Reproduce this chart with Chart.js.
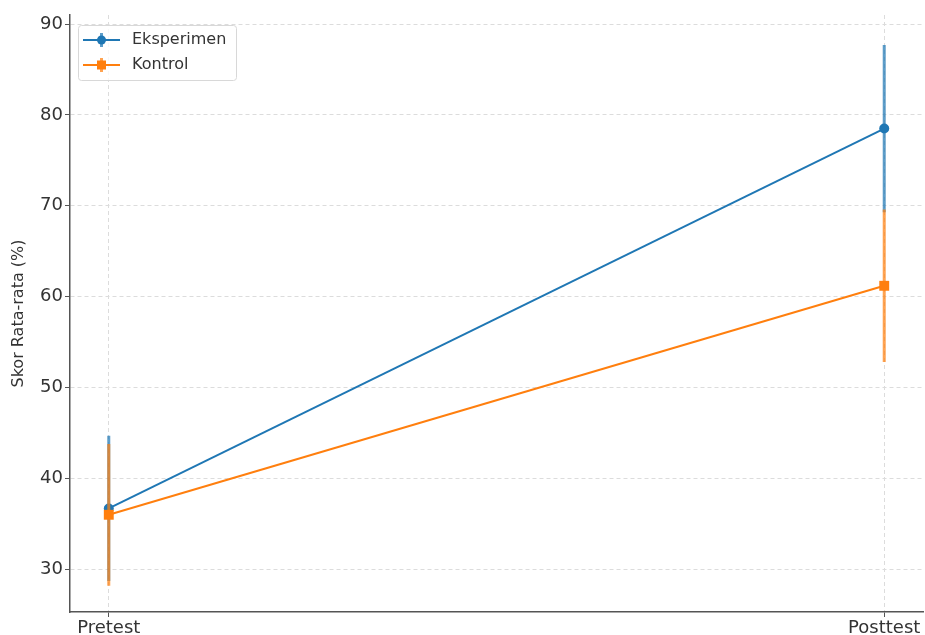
<!DOCTYPE html>
<html>
<head>
<meta charset="utf-8">
<script src="https://cdn.jsdelivr.net/npm/chart.js@4.4.1/dist/chart.umd.min.js"></script>
<style>
  html, body { margin: 0; padding: 0; background: #fff; }
  #wrap { width: 925px; height: 635px; }
</style>
</head>
<body>
<div id="wrap"><canvas id="chart" width="925" height="635"></canvas></div>
<script>
// --- data ---
const phases = ['Pretest', 'Posttest'];
const phaseX = [0, 1];
const eksperimenMean = [36.7, 78.5];
const eksperimenErr = [8.0, 9.2];
const kontrolMean = [36.0, 61.2];
const kontrolErr = [7.8, 8.4];
const yTicks = [30, 40, 50, 60, 70, 80, 90];

const BLUE = '#1f77b4';
const ORANGE = '#ff7f0e';
const BLUE_ERR = 'rgba(31,119,180,0.72)';
const ORANGE_ERR = 'rgba(255,127,14,0.72)';

const seriesPoints = (means) => phaseX.map((x, i) => ({ x, y: means[i] }));

// vertical bars, separated by null gaps
const errorPoints = (means, errs) => {
    const pts = [];
    phaseX.forEach((x, i) => {
        pts.push({ x, y: means[i] - errs[i] });
        pts.push({ x, y: means[i] + errs[i] });
        pts.push({ x, y: null });
    });
    return pts;
};

// matplotlib style legend box in the upper left
const legendBox = {
    id: 'legendBox',
    afterDraw(chart) {
        const { ctx, chartArea } = chart;
        const x0 = chartArea.left + 8;
        const y0 = chartArea.top + 10;
        ctx.save();
        ctx.fillStyle = 'rgba(255,255,255,0.8)';
        ctx.strokeStyle = '#d8d8d8';
        ctx.lineWidth = 1;
        ctx.beginPath();
        ctx.roundRect(x0 + 0.5, y0 + 0.5, 158, 55, 3);
        ctx.fill();
        ctx.stroke();

        const entries = [
            { label: 'Eksperimen', color: BLUE, err: BLUE_ERR, style: 'circle' },
            { label: 'Kontrol', color: ORANGE, err: ORANGE_ERR, style: 'rect' }
        ];
        entries.forEach((e, i) => {
            const cy = y0 + 15 + i * 25;
            const lx = x0 + 5, rx = x0 + 42, mx = (lx + rx) / 2;
            ctx.strokeStyle = e.err;
            ctx.lineWidth = 3;
            ctx.beginPath();
            ctx.moveTo(mx, cy - 7);
            ctx.lineTo(mx, cy + 7);
            ctx.stroke();
            ctx.strokeStyle = e.color;
            ctx.lineWidth = 2;
            ctx.beginPath();
            ctx.moveTo(lx, cy);
            ctx.lineTo(rx, cy);
            ctx.stroke();
            ctx.fillStyle = e.color;
            if (e.style === 'circle') {
                ctx.beginPath();
                ctx.arc(mx, cy, 4.5, 0, Math.PI * 2);
                ctx.fill();
            } else {
                ctx.fillRect(mx - 4.5, cy - 4.5, 9, 9);
            }
            ctx.fillStyle = '#333';
            ctx.font = '16px "DejaVu Sans"';
            ctx.textBaseline = 'middle';
            ctx.textAlign = 'left';
            ctx.fillText(e.label, x0 + 54, cy);
        });
        ctx.restore();
    }
};

new Chart(document.getElementById('chart'), {
    type: 'line',
    data: {
        datasets: [
            {
                label: 'Eksperimen',
                data: seriesPoints(eksperimenMean),
                borderColor: BLUE,
                backgroundColor: BLUE,
                borderWidth: 2,
                pointStyle: 'circle',
                pointRadius: 5,
                pointBorderWidth: 0,
                order: 3
            },
            {
                label: 'Eksperimen err',
                data: errorPoints(eksperimenMean, eksperimenErr),
                borderColor: BLUE_ERR,
                borderWidth: 3,
                pointRadius: 0,
                spanGaps: false,
                order: 4
            },
            {
                label: 'Kontrol',
                data: seriesPoints(kontrolMean),
                borderColor: ORANGE,
                backgroundColor: ORANGE,
                borderWidth: 2,
                pointStyle: 'rect',
                pointRadius: 7,
                pointBorderWidth: 0,
                order: 1
            },
            {
                label: 'Kontrol err',
                data: errorPoints(kontrolMean, kontrolErr),
                borderColor: ORANGE_ERR,
                borderWidth: 3,
                pointRadius: 0,
                spanGaps: false,
                order: 2
            }
        ]
    },
    options: {
        responsive: false,
        animation: false,
        layout: { autoPadding: false, padding: { top: 15, right: 2, left: 0, bottom: 0 } },
        plugins: {
            legend: { display: false },
            tooltip: { enabled: false }
        },
        scales: {
            x: {
                type: 'linear',
                min: -0.05,
                max: 1.05,
                afterBuildTicks: (axis) => { axis.ticks = phaseX.map(v => ({ value: v })); },
                afterFit: (axis) => {
                    axis.height = 23;
                    axis.paddingLeft = 0;
                    axis.paddingRight = 0;
                },
                ticks: {
                    callback: (v) => phases[phaseX.indexOf(v)] ?? '',
                    autoSkip: false,
                    maxRotation: 0,
                    color: '#333',
                    font: { family: 'DejaVu Sans', size: 18 },
                    padding: 1
                },
                grid: {
                    color: '#dcdcdc',
                    lineWidth: 1,
                    tickLength: 5,
                    tickColor: '#555',
                    tickWidth: 1
                },
                border: { display: true, color: '#555', width: 1.5, dash: [4, 3] }
            },
            y: {
                min: 25.3,
                max: 91,
                afterBuildTicks: (axis) => { axis.ticks = yTicks.map(v => ({ value: v })); },
                afterFit: (axis) => { axis.width = 70; },
                ticks: {
                    color: '#333',
                    font: { family: 'DejaVu Sans', size: 18 },
                    padding: 2
                },
                grid: {
                    color: '#dcdcdc',
                    lineWidth: 1,
                    tickLength: 5,
                    tickColor: '#555',
                    tickWidth: 1
                },
                border: { display: true, color: '#555', width: 1.5, dash: [4, 3] },
                title: {
                    display: true,
                    text: 'Skor Rata-rata (%)',
                    color: '#333',
                    font: { family: 'DejaVu Sans', size: 16 },
                    padding: { top: 9, bottom: 0 }
                }
            }
        }
    },
    plugins: [legendBox]
});
</script>
</body>
</html>
